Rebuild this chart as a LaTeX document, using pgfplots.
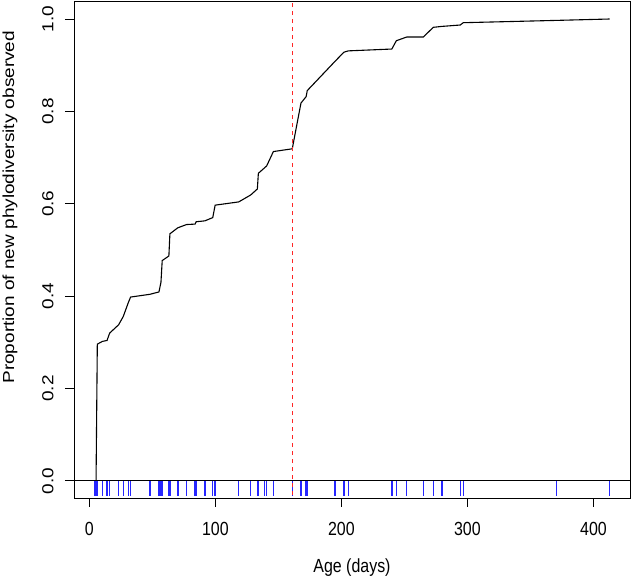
\documentclass[border=0pt]{standalone}
\usepackage{graphicx}
\usepackage{pgfplots}
\pgfplotsset{compat=1.18}
\usepackage{fontspec}
\setmainfont{Liberation Sans}
\newcommand{\hx}[1]{\scalebox{0.84}[1]{#1}}
\newcommand{\vx}[1]{\scalebox{1}[0.84]{#1}}
\begin{document}
\begin{tikzpicture}
\begin{axis}[
  scale only axis,
  width=556pt, height=497pt,
  xmin=-12.2, xmax=429,
  ymin=-0.037, ymax=1.039,
  axis line style={black, line width=0.9pt},
  tick style={black, line width=0.9pt},
  tick align=outside,
  major tick length=9pt,
  xtick={0,100,200,300,400},
  xticklabels={\hx{0},\hx{100},\hx{200},\hx{300},\hx{400}},
  ytick={0,0.2,0.4,0.6,0.8,1.0},
  yticklabels={\vx{0.0},\vx{0.2},\vx{0.4},\vx{0.6},\vx{0.8},\vx{1.0}},
  xtick pos=bottom, ytick pos=left,
  tick label style={font=\fontsize{19}{21}\selectfont},
  label style={font=\fontsize{19}{21}\selectfont},
  xticklabel style={anchor=center, yshift=-22pt},
  yticklabel style={rotate=90, anchor=center, yshift=17pt},
  xlabel={\hx{Age (days)}},
  ylabel={\vx{Proportion of new phylodiversity observed}},
  xlabel style={at={(axis description cs:0.5,-0.14)}, anchor=center},
  ylabel style={at={(axis description cs:-0.115,0.585)}, anchor=center},
  clip=true,
]
% horizontal line at 0
\addplot[black, line width=0.9pt] coordinates {(-20,0) (440,0)};
% rug
\addplot[blue!85!white, line width=1.4pt, ycomb, mark=none] coordinates {
(4.0,-0.032) (5.3,-0.032) (6.3,-0.032) (10.3,-0.032) (14,-0.032) (16.1,-0.032)
(23.2,-0.032) (26.9,-0.032) (30.9,-0.032) (32.7,-0.032) (48,-0.032) (55.2,-0.032)
(56.8,-0.032) (57.8,-0.032) (63.1,-0.032) (63.9,-0.032) (70.2,-0.032) (77.1,-0.032)
(83.9,-0.032) (84.7,-0.032) (91.6,-0.032) (97.9,-0.032) (99.8,-0.032) (118.5,-0.032)
(128,-0.032) (133.3,-0.032) (134.1,-0.032) (139.1,-0.032) (140.7,-0.032) (146,-0.032)
(161,-0.032) (167.9,-0.032) (172,-0.032) (172.9,-0.032) (194.8,-0.032) (201.9,-0.032)
(205.4,-0.032) (240,-0.032) (243.6,-0.032) (251.8,-0.032) (265,-0.032) (272.9,-0.032)
(279.8,-0.032) (294.3,-0.032) (296.7,-0.032) (370.8,-0.032) (412.8,-0.032)
};
% curve
\addplot[black, line width=1.1pt, mark=none] coordinates {
(5.3,0) (6.3,0.296) (10.3,0.302) (14,0.304) (16.1,0.320) (23.2,0.338)
(26.9,0.356) (30.9,0.386) (32.7,0.398) (48,0.404) (55.2,0.409) (56.8,0.43)
(57.8,0.477) (63.1,0.487) (63.9,0.535) (70.2,0.548) (77.1,0.555) (83.9,0.556)
(84.7,0.561) (91.6,0.563) (97.9,0.570) (99.8,0.597) (118.5,0.604) (128,0.619)
(133.3,0.632) (134.1,0.666) (139.1,0.678) (140.7,0.682) (146,0.713) (161,0.719)
(167.9,0.818) (172,0.832) (172.9,0.845) (194.8,0.908) (201.9,0.928) (205.4,0.931)
(240,0.935) (243.6,0.953) (251.8,0.961) (265,0.961) (272.9,0.982) (279.8,0.984)
(294.3,0.987) (296.7,0.992) (370.8,0.997) (412.8,1.0)
};
% red dashed line
\addplot[red!85!white, line width=1pt, dash pattern=on 4pt off 4pt] coordinates {(161,-0.1) (161,1.2)};
\end{axis}
\pgfresetboundingbox
\path (current axis.south west) ++(-74pt,-79pt) rectangle ([xshift=2pt,yshift=1pt]current axis.north east);
\end{tikzpicture}
\end{document}
